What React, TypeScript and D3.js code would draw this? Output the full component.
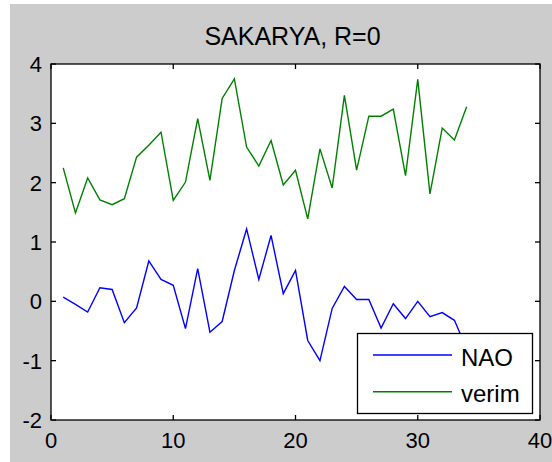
import React from "react";
import * as d3 from "d3";

const years = d3.range(1, 35);
const nao = [0.07, -0.05, -0.18, 0.23, 0.2, -0.36, -0.11, 0.68, 0.37, 0.27, -0.46, 0.55, -0.52, -0.34, 0.52, 1.22, 0.37, 1.11, 0.13, 0.52, -0.66, -1.0, -0.12, 0.25, 0.03, 0.03, -0.45, -0.04, -0.29, 0.0, -0.26, -0.19, -0.32, -0.8];
const verim = [2.25, 1.49, 2.08, 1.71, 1.63, 1.73, 2.43, 2.63, 2.85, 1.7, 2.01, 3.08, 2.04, 3.42, 3.75, 2.6, 2.28, 2.71, 1.96, 2.21, 1.39, 2.57, 1.91, 3.47, 2.21, 3.12, 3.12, 3.24, 2.12, 3.74, 1.81, 2.92, 2.72, 3.28];
const xTicks = [0, 10, 20, 30, 40];
const yTicks = [-2, -1, 0, 1, 2, 3, 4];
const seriesNames = ["NAO", "verim"];
const seriesColors = ["#0000ff", "#008000"];

const W = 552;
const H = 462;
const L = 51, R = 540, T = 64, B = 420;
const FONT = "'Liberation Sans', Arial, Helvetica, sans-serif";

export default function App() {
  const x = d3.scaleLinear().domain([0, 40]).range([L, R]);
  const y = d3.scaleLinear().domain([-2, 4]).range([B, T]);
  const line = d3
    .line<number>()
    .x((_, i) => x(years[i]))
    .y((d) => y(d));
  const series = [nao, verim];
  const tl = 5;

  return (
    <svg
      width={W}
      height={H}
      style={{ position: "absolute", left: 0, top: 0, background: "#ffffff" }}
    >
      <rect x={10} y={4} width={W - 10} height={H - 4} fill="#cccccc" />
      <text
        x={(L + R) / 2 - 3}
        y={45}
        textAnchor="middle"
        fontFamily={FONT}
        fontSize={25}
        fill="#000"
      >
        SAKARYA, R=0
      </text>
      <rect x={L} y={T} width={R - L} height={B - T} fill="#ffffff" />
      <g fill="none" strokeWidth={1.4} strokeLinejoin="miter">
        {series.map((s, k) => (
          <path key={k} d={line(s) || ""} stroke={seriesColors[k]} />
        ))}
      </g>
      <g stroke="#000" strokeWidth={1.3}>
        {xTicks.map((t) => (
          <g key={"x" + t}>
            <line x1={x(t)} x2={x(t)} y1={B} y2={B - tl} />
            <line x1={x(t)} x2={x(t)} y1={T} y2={T + tl} />
          </g>
        ))}
        {yTicks.map((t) => (
          <g key={"y" + t}>
            <line x1={L} x2={L + tl} y1={y(t)} y2={y(t)} />
            <line x1={R} x2={R - tl} y1={y(t)} y2={y(t)} />
          </g>
        ))}
        <rect x={L} y={T} width={R - L} height={B - T} fill="none" />
      </g>
      <g fontFamily={FONT} fontSize={22} fill="#000">
        {xTicks.map((t) => (
          <text key={"xl" + t} x={x(t)} y={448} textAnchor="middle">
            {t}
          </text>
        ))}
        {yTicks.map((t) => (
          <text key={"yl" + t} x={42} y={y(t) + 8} textAnchor="end">
            {t}
          </text>
        ))}
      </g>
      <g>
        <rect
          x={357.5}
          y={333.5}
          width={175}
          height={80}
          fill="#ffffff"
          stroke="#000"
          strokeWidth={1.3}
        />
        {seriesNames.map((n, k) => (
          <g key={n}>
            <line
              x1={373}
              x2={452}
              y1={355 + k * 36.7}
              y2={355 + k * 36.7}
              stroke={seriesColors[k]}
              strokeWidth={1.4}
            />
            <text
              x={461}
              y={366 + k * 36}
              fontFamily={FONT}
              fontSize={24}
              fill="#000"
            >
              {n}
            </text>
          </g>
        ))}
      </g>
    </svg>
  );
}
